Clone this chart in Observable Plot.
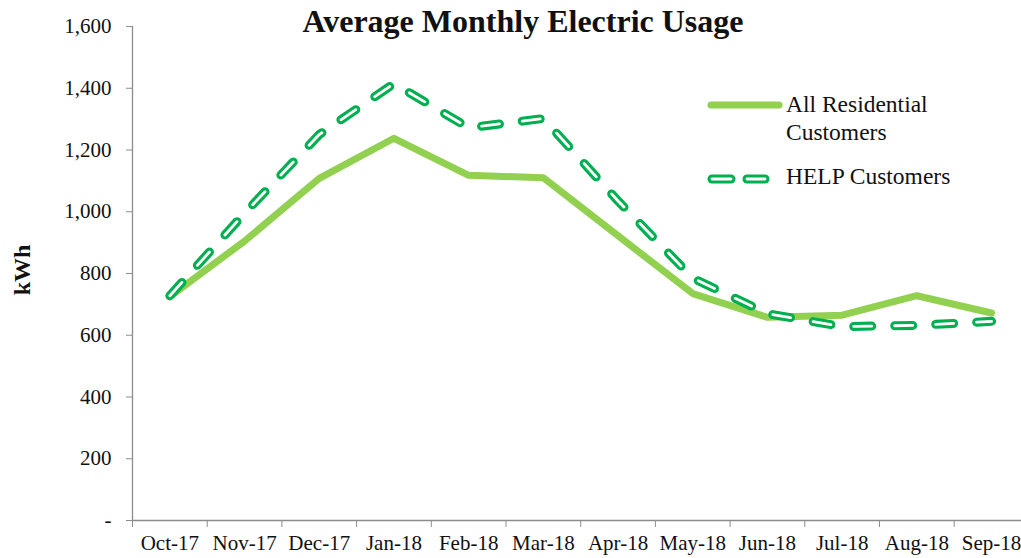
<!DOCTYPE html>
<html>
<head>
<meta charset="utf-8">
<script src="https://cdn.jsdelivr.net/npm/d3@7"></script>
<script src="https://cdn.jsdelivr.net/npm/@observablehq/plot@0.6"></script>
<style>
  body { margin: 0; background: #fff; overflow: hidden; }
  #wrap { position: relative; width: 1021px; height: 558px; font-family: "Liberation Serif", "Times New Roman", serif; color: #111; }
  #chart { position: absolute; left: 0; top: 0; }
  #title { position: absolute; left: 0; width: 1046px; top: 4px; text-align: center; font-weight: bold; font-size: 32px; line-height: 34px; }
  #ylabel { position: absolute; left: 22px; top: 270px; transform: translate(-50%, -50%) rotate(-90deg); font-weight: bold; font-size: 24px; white-space: nowrap; }
  #legend { position: absolute; left: 702px; top: 90px; font-size: 23.5px; line-height: 28px; }
  .item { position: relative; padding-left: 84px; }
  .item svg { position: absolute; left: 0; top: 0; }
</style>
</head>
<body>
<div id="wrap">
  <div id="chart"></div>
  <div id="title">Average Monthly Electric Usage</div>
  <div id="ylabel">kWh</div>
  <div id="legend"></div>
</div>
<script>
const months = ["Oct-17","Nov-17","Dec-17","Jan-18","Feb-18","Mar-18","Apr-18","May-18","Jun-18","Jul-18","Aug-18","Sep-18"];
const allResidential = [725, 905, 1108, 1238, 1118, 1110, 922, 735, 658, 665, 728, 672];
const helpCustomers = [728, 995, 1250, 1415, 1272, 1302, 1035, 785, 670, 628, 632, 645];
const yTicks = [0, 200, 400, 600, 800, 1000, 1200, 1400, 1600];
const seriesNames = ["All Residential Customers", "HELP Customers"];
const solidColor = "#92D050";
const dashColor = "#00B050";

const allData = months.map((m, i) => ({pos: i + 0.5, month: m, value: allResidential[i]}));
const helpData = months.map((m, i) => ({pos: i + 0.5, month: m, value: helpCustomers[i]}));

const band = 74.7;
const x0 = 132;

const chart = Plot.plot({
  width: 1021,
  height: 558,
  marginLeft: x0,
  marginRight: 0,
  marginTop: 26,
  marginBottom: 38,
  style: {fontFamily: "'Liberation Serif', 'Times New Roman', serif", fontSize: "21px", color: "#111", background: "white", overflow: "hidden"},
  x: {type: "linear", domain: [0, months.length], range: [x0, x0 + band * months.length]},
  y: {domain: [0, 1600]},
  marks: [
    Plot.ruleY([0], {stroke: "#8c8c8c", strokeWidth: 1.3}),
    Plot.ruleX([0], {stroke: "#8c8c8c", strokeWidth: 1.3}),
    Plot.axisY({ticks: yTicks, tickSize: 6, tickPadding: 15, stroke: "#8c8c8c", fill: "#111", fontSize: 21,
      tickFormat: d => d === 0 ? "-" : d3.format(",")(d), label: null}),
    Plot.axisX({ticks: d3.range(0, months.length + 1), tickSize: 7, stroke: "#8c8c8c", tickFormat: () => "", label: null}),
    Plot.axisX({ticks: months.map((_, i) => i + 0.5), tickSize: 0, tickPadding: 15, fill: "#111", fontSize: 21,
      tickFormat: d => months[Math.round(d - 0.5)], label: null}),
    Plot.line(allData, {x: "pos", y: "value", stroke: solidColor, strokeWidth: 7, strokeLinejoin: "round", strokeLinecap: "round"}),
    Plot.line(helpData, {x: "pos", y: "value", stroke: dashColor, strokeWidth: 9, strokeDasharray: "18,23", strokeLinecap: "round", strokeLinejoin: "round"}),
    Plot.line(helpData, {x: "pos", y: "value", stroke: "white", strokeWidth: 2.8, strokeDasharray: "18,23", strokeLinecap: "round", strokeLinejoin: "round"})
  ]
});
document.getElementById("chart").appendChild(chart);

// Legend
const legend = document.getElementById("legend");
legend.innerHTML = `
  <div class="item" style="height:84px;">
    <svg width="84" height="30"><line x1="9" y1="15" x2="77" y2="15" stroke="${solidColor}" stroke-width="7" stroke-linecap="round"/></svg>
    <div>All Residential<br>Customers</div>
  </div>
  <div class="item" style="margin-top:-12px;">
    <svg width="84" height="30">
      <line x1="10" y1="17" x2="29" y2="17" stroke="${dashColor}" stroke-width="9" stroke-linecap="round"/>
      <line x1="10" y1="17" x2="29" y2="17" stroke="white" stroke-width="2.8" stroke-linecap="round"/>
      <line x1="45" y1="17" x2="63" y2="17" stroke="${dashColor}" stroke-width="9" stroke-linecap="round"/>
      <line x1="45" y1="17" x2="63" y2="17" stroke="white" stroke-width="2.8" stroke-linecap="round"/>
    </svg>
    <div>${seriesNames[1]}</div>
  </div>`;
</script>
</body>
</html>
